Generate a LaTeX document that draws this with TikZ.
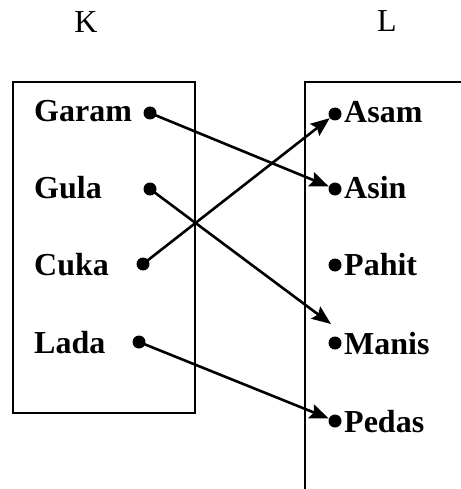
\documentclass[tikz,border=0pt]{standalone}
\usepackage{fontspec}
\setmainfont{Liberation Serif}
\usetikzlibrary{arrows.meta}
\begin{document}
\begin{tikzpicture}[x=1pt,y=-1pt,
  lbl/.style={font=\fontsize{32}{36}\selectfont\bfseries, inner sep=0pt, anchor=base west},
  hdr/.style={font=\fontsize{32}{36}\selectfont, inner sep=0pt, anchor=base},
  dot/.style={circle, fill=black, minimum size=13pt, inner sep=0pt},
  arr/.style={line width=2.6pt, -{Stealth[length=19pt,width=15pt,inset=3pt]}},
  box/.style={draw=black, line width=1.6pt}]
\useasboundingbox (0,0) rectangle (460,489);
\node[hdr] (K) at (86,33) {K};
\node[hdr] (L) at (387,32) {L};
\draw[box] (13,82) rectangle (195,413);
\draw[box] (462,82) -- (305,82) -- (305,491);
% left
\node[lbl] (garam) at (34,122) {Garam};
\node[lbl] (gula) at (34,198) {Gula};
\node[lbl] (cuka) at (34,275) {Cuka};
\node[lbl] (lada) at (34,353) {Lada};
\node[dot] (dgaram) at (150,113) {};
\node[dot] (dgula) at (150,189) {};
\node[dot] (dcuka) at (143,264) {};
\node[dot] (dlada) at (139,342) {};
% right
\node[dot] (dasam) at (335,114) {};
\node[dot] (dasin) at (335,189) {};
\node[dot] (dpahit) at (335,265) {};
\node[dot] (dmanis) at (335,343) {};
\node[dot] (dpedas) at (335,421) {};
\node[lbl] (asam) at (344,123) {Asam};
\node[lbl] (asin) at (344,198) {Asin};
\node[lbl] (pahit) at (344,275) {Pahit};
\node[lbl] (manis) at (344,354) {Manis};
\node[lbl] (pedas) at (344,432) {Pedas};
\coordinate (tmanis) at (331,324);
% arrows
\draw[arr] (dgaram.center) -- (dasin);
\draw[arr] (dgula.center) -- (tmanis);
\draw[arr] (dcuka.center) -- (dasam);
\draw[arr] (dlada.center) -- (dpedas);
\end{tikzpicture}
\end{document}
